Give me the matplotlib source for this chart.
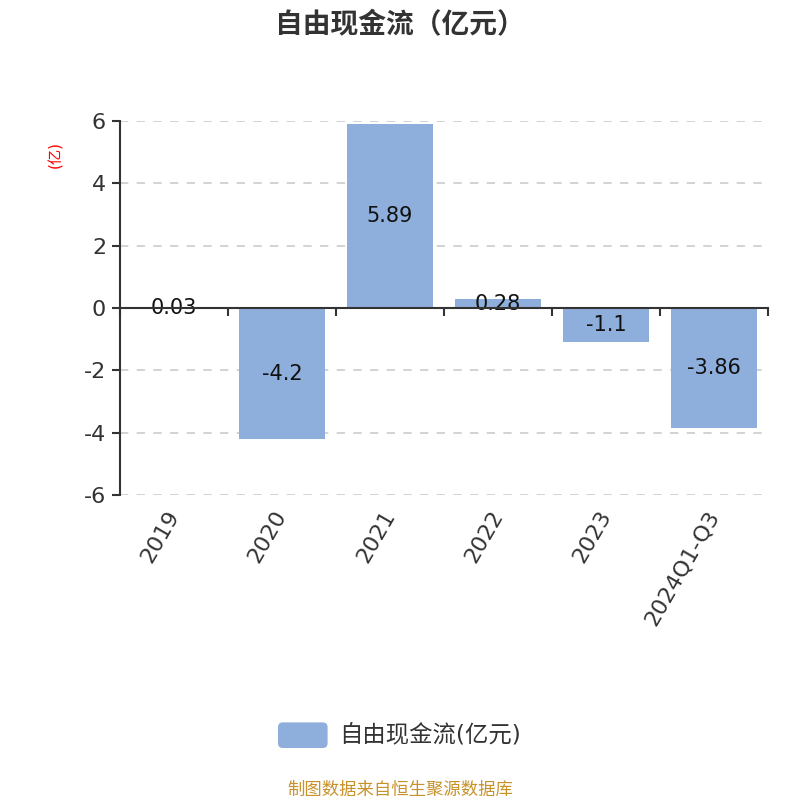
import matplotlib
matplotlib.use("Agg")
import matplotlib.pyplot as plt
from matplotlib.patches import FancyBboxPatch

plt.rcParams['font.family'] = ['DejaVu Sans', 'Noto Sans CJK SC']

# data
years = ['2019', '2020', '2021', '2022', '2023', '2024Q1-Q3']
fcf = [0.03, -4.2, 5.89, 0.28, -1.1, -3.86]
labels = ['0.03', '-4.2', '5.89', '0.28', '-1.1', '-3.86']

bar_color = '#8eaedb'
fig = plt.figure(figsize=(8, 8), dpi=100)
ax = fig.add_axes([0.15, 0.381, 0.81, 0.468])

x = list(range(len(years)))
ax.bar(x, fcf, width=0.8, color=bar_color, zorder=2)
for xi, v, lab in zip(x, fcf, labels):
    ax.text(xi, v / 2, lab, ha='center', va='center', fontsize=15, color='#111111', zorder=3)

ax.set_xlim(-0.5, len(years) - 0.5)
ax.set_ylim(-6, 6)
ax.set_yticks([-6, -4, -2, 0, 2, 4, 6])
ax.set_yticklabels(['-6', '-4', '-2', '0', '2', '4', '6'])
ax.tick_params(axis='y', labelsize=16, labelcolor='#333333', color='#333333',
               length=6, width=1.5, direction='out', pad=4)
for yv in [-6, -4, -2, 2, 4, 6]:
    ax.axhline(yv, color='#cccccc', linestyle=(0, (5, 5)), linewidth=1.2, zorder=1)

for s in ['top', 'right']:
    ax.spines[s].set_visible(False)
ax.spines['left'].set_color('#333333')
ax.spines['left'].set_linewidth(1.5)
ax.spines['bottom'].set_position(('data', 0))
ax.spines['bottom'].set_color('#333333')
ax.spines['bottom'].set_linewidth(1.5)
ax.spines['bottom'].set_zorder(4)

bounds = [i - 0.5 for i in range(len(years) + 1)]
ax.set_xticks(bounds)
ax.set_xticklabels([])
ax.tick_params(axis='x', length=6, width=1.5, color='#333333', direction='out')

sec = ax.secondary_xaxis('bottom')
sec.set_xticks(x)
sec.set_xticklabels(years, rotation=60, ha='right', va='center', rotation_mode='anchor')
sec.tick_params(length=0, labelsize=16, labelcolor='#333333', pad=12)
sec.spines['bottom'].set_visible(False)

ax.set_ylabel('(亿)', color='red', fontsize=11)
ax.yaxis.set_label_coords(-0.088, 0.91)

fig.text(0.5, 0.969, '自由现金流（亿元）', ha='center', va='center',
         fontsize=20, fontweight='bold', color='#333333')

# legend
leg_box = FancyBboxPatch((0.3475, 0.065), 0.062, 0.032,
                         boxstyle='round,pad=0,rounding_size=0.006',
                         transform=fig.transFigure, facecolor=bar_color, edgecolor='none')
fig.patches.append(leg_box)
fig.text(0.424, 0.081, '自由现金流(亿元)', ha='left', va='center', fontsize=16.8, color='#333333')

fig.text(0.5, 0.012, '制图数据来自恒生聚源数据库', ha='center', va='center',
         fontsize=12.5, color='#c8922a')

fig.savefig('out.png', dpi=100)
